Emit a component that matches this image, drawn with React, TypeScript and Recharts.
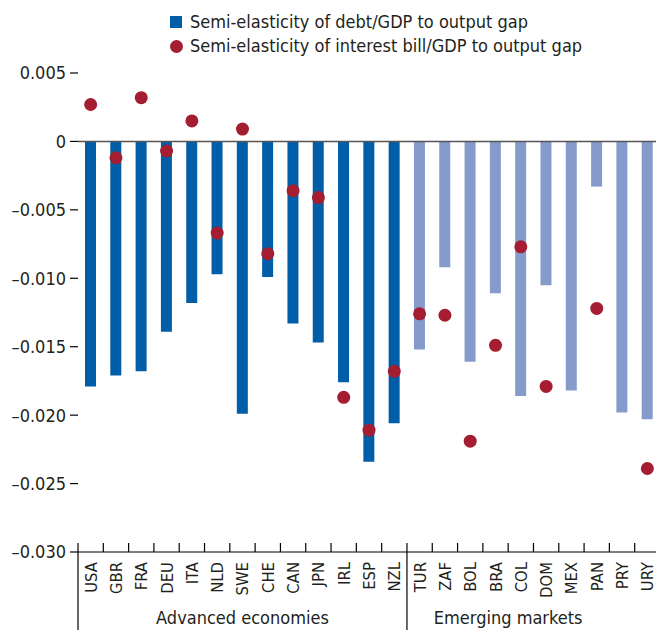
import React from "react";
import { ComposedChart, Bar, Line, Cell, XAxis, YAxis, ReferenceLine } from "recharts";

const countries = [
  "USA", "GBR", "FRA", "DEU", "ITA", "NLD", "SWE", "CHE", "CAN", "JPN", "IRL", "ESP", "NZL",
  "TUR", "ZAF", "BOL", "BRA", "COL", "DOM", "MEX", "PAN", "PRY", "URY",
];
const groups = [
  "AE", "AE", "AE", "AE", "AE", "AE", "AE", "AE", "AE", "AE", "AE", "AE", "AE",
  "EM", "EM", "EM", "EM", "EM", "EM", "EM", "EM", "EM", "EM",
];
const debtSemiElasticity = [
  -0.0179, -0.0171, -0.0168, -0.0139, -0.0118, -0.0097, -0.0199, -0.0099, -0.0133, -0.0147, -0.0176, -0.0234, -0.0206,
  -0.0152, -0.0092, -0.0161, -0.0111, -0.0186, -0.0105, -0.0182, -0.0033, -0.0198, -0.0203,
];
const interestSemiElasticity = [
  0.0027, -0.0012, 0.0032, -0.0007, 0.0015, -0.0067, 0.0009, -0.0082, -0.0036, -0.0041, -0.0187, -0.0211, -0.0168,
  -0.0126, -0.0127, -0.0219, -0.0149, -0.0077, -0.0179, null, -0.0122, null, -0.0239,
];
const yTicks = [0.005, 0, -0.005, -0.01, -0.015, -0.02, -0.025, -0.03];
const groupLabels = ["Advanced economies", "Emerging markets"];

const FONT = "'Liberation Sans Narrow', 'DejaVu Sans Condensed', 'Arial Narrow', sans-serif";
const TEXT = "#231f20";
const DARK_BLUE = "#005da8";
const LIGHT_BLUE = "#849bcb";
const RED = "#a51d30";

const data = countries.map((c, i) => ({
  name: c,
  group: groups[i],
  debt: debtSemiElasticity[i],
  interest: interestSemiElasticity[i],
}));

const fmt = (v: number) => (v === 0 ? "0" : v < 0 ? "\u2013" + Math.abs(v).toFixed(3) : v.toFixed(3));

// country label + separator ticks between categories; group names hang off the middle ticks
function CountryTick(props: any) {
  const { x, y, payload, index } = props;
  const half = payload && payload.offset ? payload.offset : 12.65;
  const left = x - half;
  const isBoundary = index === 0 || (index > 0 && groups[index] !== groups[index - 1]);
  return (
    <g>
      <line x1={left} x2={left} y1={y - 9} y2={isBoundary ? y + 80 : y} stroke="#000" strokeWidth={1.2} />
      <text
        x={0}
        y={0}
        transform={`translate(${x + 6},${y + 10}) rotate(-90)`}
        textAnchor="end"
        fontSize={16.5}
        fontFamily={FONT}
        fill={TEXT}
      >
        {payload.value}
      </text>
      {index === 6 && (
        <text x={x} y={y + 72} textAnchor="middle" fontSize={18} fontFamily={FONT} fill={TEXT}>
          {groupLabels[0]}
        </text>
      )}
      {index === 17 && (
        <text x={left} y={y + 72} textAnchor="middle" fontSize={18} fontFamily={FONT} fill={TEXT}>
          {groupLabels[1]}
        </text>
      )}
    </g>
  );
}

export default function App() {
  return (
    <div style={{ position: "absolute", left: 0, top: 0, width: 656, height: 630, overflow: "hidden", background: "#fff", fontFamily: FONT }}>
      <div style={{ position: "absolute", left: 170, top: 10, fontSize: 18, color: TEXT, lineHeight: "24px" }}>
        <div style={{ display: "flex", alignItems: "center" }}>
          <span style={{ width: 12, height: 12, background: DARK_BLUE, display: "inline-block", marginRight: 8 }} />
          Semi-elasticity of debt/GDP to output gap
        </div>
        <div style={{ display: "flex", alignItems: "center" }}>
          <span style={{ width: 13, height: 13, borderRadius: "50%", background: RED, display: "inline-block", marginRight: 7 }} />
          Semi-elasticity of interest bill/GDP to output gap
        </div>
      </div>
      <ComposedChart width={656} height={630} data={data} margin={{ top: 73, right: -4, bottom: 0, left: 0 }} barCategoryGap={0}>
        <YAxis
          type="number"
          domain={[-0.03, 0.005]}
          ticks={yTicks}
          interval={0}
          width={78}
          axisLine={false}
          tickSize={8}
          tickMargin={4}
          tickLine={{ stroke: "#000", strokeWidth: 1.2 }}
          tickFormatter={fmt}
          tick={{ fontSize: 18, fontFamily: FONT, fill: TEXT }}
        />
        <XAxis
          dataKey="name"
          height={78}
          interval={0}
          tickLine={false}
          tickSize={0}
          tickMargin={0}
          axisLine={{ stroke: "#000", strokeWidth: 1.2 }}
          tick={<CountryTick />}
        />
        <ReferenceLine y={0} stroke="#555" strokeWidth={1.5} />
        <Bar dataKey="debt" barSize={11} isAnimationActive={false}>
          {data.map((d) => (
            <Cell key={d.name} fill={d.group === "AE" ? DARK_BLUE : LIGHT_BLUE} />
          ))}
        </Bar>
        <Line
          dataKey="interest"
          stroke="none"
          strokeWidth={0}
          dot={{ r: 6.5, fill: RED, stroke: "none" }}
          activeDot={false}
          isAnimationActive={false}
        />
      </ComposedChart>
    </div>
  );
}
